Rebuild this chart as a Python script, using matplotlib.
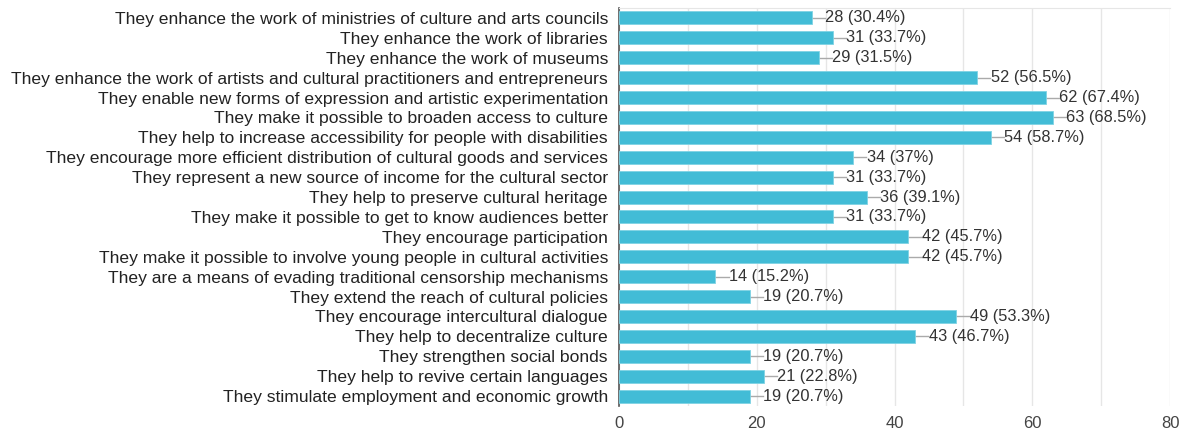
import matplotlib
matplotlib.use("Agg")
import matplotlib.pyplot as plt

categories = [
    "They enhance the work of ministries of culture and arts councils",
    "They enhance the work of libraries",
    "They enhance the work of museums",
    "They enhance the work of artists and cultural practitioners and entrepreneurs",
    "They enable new forms of expression and artistic experimentation",
    "They make it possible to broaden access to culture",
    "They help to increase accessibility for people with disabilities",
    "They encourage more efficient distribution of cultural goods and services",
    "They represent a new source of income for the cultural sector",
    "They help to preserve cultural heritage",
    "They make it possible to get to know audiences better",
    "They encourage participation",
    "They make it possible to involve young people in cultural activities",
    "They are a means of evading traditional censorship mechanisms",
    "They extend the reach of cultural policies",
    "They encourage intercultural dialogue",
    "They help to decentralize culture",
    "They strengthen social bonds",
    "They help to revive certain languages",
    "They stimulate employment and economic growth",
]
counts = [28, 31, 29, 52, 62, 63, 54, 34, 31, 36, 31, 42, 42, 14, 19, 49, 43, 19, 21, 19]
percents = ["30.4%", "33.7%", "31.5%", "56.5%", "67.4%", "68.5%", "58.7%", "37%", "33.7%",
            "39.1%", "33.7%", "45.7%", "45.7%", "15.2%", "20.7%", "53.3%", "46.7%", "20.7%",
            "22.8%", "20.7%"]
xticks = [0, 20, 40, 60, 80]

plt.rcParams['font.family'] = ['Liberation Sans', 'DejaVu Sans']

fig = plt.figure(figsize=(11.91, 4.38), dpi=100)
ax = fig.add_axes([619/1191, 1 - 406/438, 551/1191, (406 - 8)/438])

y = list(range(len(categories)))
ax.barh(y, counts, height=0.65, color='#42bcd6', edgecolor='#7fd3e4', linewidth=0.6, zorder=3)

for yi, c, p in zip(y, counts, percents):
    ax.plot([c, c + 1.9], [yi, yi], color='#aaaaaa', lw=1, zorder=2)
    ax.text(c + 1.95, yi, f"{c} ({p})", va='center', ha='left', fontsize=11.8, color='#333333')

ax.set_xlim(0, 80)
ax.set_ylim(len(categories) - 0.5, -0.5)
ax.set_yticks(y)
ax.set_yticklabels(categories, fontsize=12.6, color='#222222')
ax.set_xticks(xticks)
ax.set_xticklabels([str(t) for t in xticks], fontsize=12, color='#444444')
ax.set_xticks(range(0, 81, 10), minor=True)
ax.grid(axis='x', which='both', color='#e6e6e6', lw=1, zorder=0)
ax.tick_params(axis='both', which='both', length=0)
ax.tick_params(axis='x', pad=7)
ax.tick_params(axis='y', pad=8)
for s in ['right', 'bottom']:
    ax.spines[s].set_visible(False)
ax.spines['top'].set_color('#e6e6e6')
ax.spines['left'].set_color('#555555')
ax.spines['left'].set_linewidth(1.2)
ax.set_facecolor('white')

fig.savefig("out.png", dpi=100)
